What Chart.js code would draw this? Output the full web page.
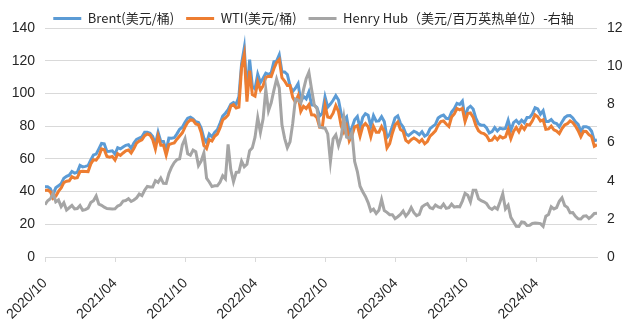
<!DOCTYPE html>
<html>
<head>
<meta charset="utf-8">
<script src="https://cdn.jsdelivr.net/npm/chart.js@4.4.1/dist/chart.umd.min.js"></script>
<style>
  html, body { margin: 0; padding: 0; background: #fff; }
  #wrap { width: 627px; height: 320px; }
</style>
</head>
<body>
<div id="wrap"><canvas id="priceChart"></canvas></div>
<script>
// Weekly closes (Fridays), first week 2020-10-09
const startDate = "2020-10-09";

const brent = [
  42.9, 42.9, 41.8, 37.9, 42.4, 43.5, 44.9, 48.2, 49.3, 50.0, 52.3, 51.3,
  51.8, 56.0, 55.1, 55.4, 55.9, 59.3, 62.4, 62.9, 66.1, 69.4, 69.2, 64.5, 64.6,
  64.9, 62.9, 66.8, 66.1, 67.3, 68.3, 68.7, 66.4, 69.6, 71.9, 72.7, 73.5, 76.2,
  76.2, 75.6, 73.6, 69.0, 76.3, 70.7, 70.6, 65.2, 72.7, 72.6, 72.9, 75.3, 78.1,
  79.3, 82.4, 84.9, 85.5, 84.4, 82.7, 82.2, 78.9, 72.7, 69.9, 75.2, 73.5, 76.1, 77.8,
  81.8, 86.1, 87.9, 90.0, 93.3, 94.4, 93.5, 97.9, 118.1, 127.9, 100.0, 120.6,
  104.4, 102.8, 111.7, 106.7, 109.3, 112.4, 111.6, 112.6, 119.4, 119.7, 123.6, 113.1, 113.1,
  111.6, 104.6, 101.2, 103.2, 106.0, 94.9, 98.2, 96.7, 100.9, 93.0, 92.8, 91.4, 86.2, 87.9,
  97.9, 91.6, 93.5, 95.8, 98.6, 96.0, 87.6, 83.6, 85.6, 76.1, 79.0, 83.9, 85.9,
  78.6, 85.3, 87.6, 86.7, 79.9, 86.4, 83.0, 83.2, 85.8, 82.8, 73.0, 75.0, 79.8,
  85.1, 86.3, 81.7, 79.5, 75.3, 74.2, 75.6, 76.9, 76.1, 74.8, 76.6, 73.9, 74.9,
  78.5, 79.9, 81.1, 85.0, 86.2, 86.8, 84.8, 84.5, 88.6, 90.7, 93.9, 93.3, 95.3,
  84.6, 90.9, 92.2, 90.5, 84.9, 81.4, 80.6, 80.6, 78.9, 75.8, 76.6, 79.1, 77.0,
  78.8, 78.3, 78.6, 83.6, 77.3, 82.2, 83.5, 81.6, 83.6, 82.1, 85.3, 85.4, 87.5,
  91.2, 90.5, 87.3, 89.5, 82.8, 82.8, 84.0, 82.1, 81.6, 79.6, 82.6, 85.2, 86.4,
  86.5, 85.0, 82.6, 81.1, 76.8, 79.7, 79.7, 79.0, 76.9, 71.1, 71.6
];

const wti = [
  40.6, 40.9, 39.9, 35.8, 37.1, 40.1, 42.2, 45.5, 46.3, 46.6, 49.1, 48.2,
  48.5, 52.2, 52.4, 52.3, 52.2, 56.9, 59.5, 59.2, 61.5, 66.1, 65.6, 61.4, 61.0,
  61.5, 59.3, 63.1, 62.1, 63.6, 64.9, 65.4, 63.6, 66.3, 69.6, 70.9, 71.6, 74.1,
  75.2, 74.6, 71.8, 66.0, 74.0, 68.3, 68.4, 62.3, 68.7, 69.3, 69.7, 72.0, 74.0,
  75.9, 79.4, 82.3, 83.8, 83.6, 81.3, 80.8, 76.1, 68.2, 66.3, 71.7, 70.9, 73.8, 75.2,
  78.9, 83.8, 85.1, 86.8, 92.3, 93.1, 91.1, 91.6, 115.7, 123.7, 95.0, 113.9,
  99.3, 98.3, 107.0, 102.1, 104.7, 109.8, 110.5, 110.3, 115.1, 118.9, 120.7, 109.6, 107.6,
  104.8, 104.8, 97.6, 94.7, 98.6, 89.0, 92.1, 90.8, 93.1, 86.9, 86.8, 85.1, 79.4, 79.5,
  92.6, 85.6, 85.1, 87.9, 92.6, 89.0, 80.1, 76.3, 80.0, 71.0, 74.3, 79.6, 80.3,
  73.8, 79.9, 81.6, 79.7, 73.4, 79.7, 76.3, 76.3, 79.7, 76.7, 66.7, 69.3, 75.7,
  80.7, 82.5, 77.9, 76.8, 71.3, 70.0, 71.7, 72.7, 71.7, 70.2, 71.8, 69.2, 70.6,
  73.9, 75.4, 77.1, 80.6, 82.8, 83.2, 81.3, 79.8, 85.6, 87.5, 90.8, 90.0, 90.8,
  82.8, 87.7, 88.1, 85.5, 80.5, 77.2, 75.9, 75.5, 74.1, 71.2, 71.4, 73.6, 71.7,
  73.8, 72.7, 73.4, 78.0, 72.3, 76.8, 79.2, 76.5, 80.0, 78.0, 81.0, 80.6, 83.2,
  86.9, 85.7, 83.1, 83.9, 78.1, 78.3, 80.0, 77.7, 77.0, 75.5, 78.5, 80.7, 81.5,
  83.2, 82.2, 80.1, 77.2, 73.5, 76.8, 76.7, 74.8, 73.6, 67.7, 68.7
];

const henryHub = [
  2.74, 2.95, 3.05, 3.35, 2.89, 2.99, 2.64, 2.84, 2.46, 2.58, 2.70, 2.52,
  2.54, 2.70, 2.45, 2.48, 2.56, 2.85, 2.95, 3.20, 2.77, 2.71, 2.61, 2.54, 2.53,
  2.52, 2.53, 2.67, 2.73, 2.93, 2.96, 3.06, 2.91, 2.99, 3.10, 3.30, 3.22, 3.50,
  3.70, 3.67, 3.67, 4.00, 3.91, 4.14, 3.86, 3.85, 4.37, 4.71, 4.95, 5.10, 5.14,
  5.87, 6.20, 5.41, 5.33, 5.60, 5.52, 4.79, 5.03, 5.45, 4.13, 3.93, 3.69, 3.73, 3.73,
  3.92, 4.26, 4.10, 5.90, 4.57, 3.94, 4.43, 4.45, 5.02, 4.73, 4.86, 5.57,
  5.72, 6.28, 7.30, 6.53, 7.24, 8.78, 7.66, 8.08, 8.73, 9.32, 8.85, 6.93, 6.22,
  5.73, 6.03, 7.00, 8.28, 8.23, 8.07, 8.77, 9.34, 9.68, 8.79, 7.97, 7.78, 6.83, 6.77,
  6.75, 6.45, 5.00, 6.20, 6.40, 5.84, 6.30, 7.30, 6.28, 6.23, 6.52, 5.00, 4.48,
  3.71, 3.42, 3.17, 2.85, 2.41, 2.51, 2.28, 2.45, 3.01, 2.43, 2.34, 2.22, 2.22,
  2.01, 2.11, 2.23, 2.41, 2.14, 2.31, 2.59, 2.32, 2.17, 2.23, 2.62, 2.73, 2.80,
  2.58, 2.53, 2.72, 2.63, 2.58, 2.77, 2.55, 2.59, 2.77, 2.61, 2.64, 2.63, 2.93,
  3.34, 3.24, 2.89, 3.50, 3.50, 3.05, 2.95, 2.89, 2.80, 2.58, 2.49, 2.61, 2.51,
  2.89, 3.31, 2.52, 2.71, 2.08, 1.85, 1.61, 1.60, 1.84, 1.81, 1.65, 1.66, 1.76,
  1.78, 1.77, 1.75, 1.61, 2.14, 2.23, 2.63, 2.52, 2.59, 2.92, 3.10, 2.70, 2.60,
  2.32, 2.33, 2.13, 2.00, 1.99, 2.14, 2.16, 2.02, 2.13, 2.28, 2.29
];

const tickLabels = ["2020/10", "2021/04", "2021/10", "2022/04", "2022/10", "2023/04", "2023/10", "2024/04"];

const seriesNames = ["Brent(美元/桶)", "WTI(美元/桶)", "Henry Hub（美元/百万英热单位）-右轴"];
const seriesColors = ["#5B9BD5", "#ED7D31", "#A5A5A5"];

// x is measured in days from the first week
const DAY = 86400000;
const t0 = Date.parse(startDate);
const dayOf = (s) => (Date.parse(s) - t0) / DAY;
const tickDays = tickLabels.map(l => dayOf(l.replace("/", "-") + "-09"));
const toPoints = (arr) => arr.map((v, i) => ({ x: i * 7, y: v }));
const lastDay = (brent.length - 1) * 7;

const tickFont = { family: "'Liberation Sans', Arial, sans-serif", size: 14 };
const textColor = "#262626";
const gridColor = "#D9D9D9";

function lineSet(i, data, axis, order) {
  return {
    label: seriesNames[i],
    data: toPoints(data),
    yAxisID: axis,
    borderColor: seriesColors[i],
    backgroundColor: seriesColors[i],
    borderWidth: 3,
    pointRadius: 0,
    tension: 0,
    order: order
  };
}

const ctx = document.getElementById("priceChart").getContext("2d");
new Chart(ctx, {
  type: "line",
  data: {
    datasets: [
      lineSet(0, brent, "y", 3),
      lineSet(1, wti, "y", 2),
      lineSet(2, henryHub, "y1", 1)
    ]
  },
  options: {
    responsive: true,
    maintainAspectRatio: false,
    animation: false,
    layout: { padding: 0 },
    plugins: {
      tooltip: { enabled: false },
      legend: {
        position: "top",
        maxHeight: 28,
        labels: {
          boxWidth: 28,
          boxHeight: 3,
          padding: 12,
          color: textColor,
          font: { family: "'Noto Sans CJK SC', sans-serif", size: 13 },
          sort: (a, b) => a.datasetIndex - b.datasetIndex,
          generateLabels: (chart) =>
            Chart.defaults.plugins.legend.labels.generateLabels(chart).map(l =>
              Object.assign(l, { lineWidth: 0, fillStyle: l.strokeStyle }))
        }
      }
    },
    scales: {
      x: {
        type: "linear",
        min: 0,
        max: lastDay,
        afterBuildTicks: (axis) => { axis.ticks = tickDays.map(v => ({ value: v })); },
        afterFit: (axis) => { axis.height = 63; axis.paddingLeft = 0; axis.paddingRight = 0; },
        ticks: {
          autoSkip: false,
          minRotation: 45,
          maxRotation: 45,
          padding: 13,
          color: textColor,
          font: tickFont,
          callback: (v) => tickLabels[tickDays.indexOf(v)]
        },
        grid: {
          drawOnChartArea: false,
          drawTicks: true,
          tickLength: 5,
          color: gridColor
        },
        border: { display: true, color: gridColor }
      },
      y: {
        position: "left",
        min: 0,
        max: 140,
        afterFit: (axis) => { axis.width = 45; },
        ticks: { stepSize: 20, padding: 10, color: textColor, font: tickFont },
        grid: { color: gridColor, drawTicks: false },
        border: { display: false }
      },
      y1: {
        position: "right",
        min: 0,
        max: 12,
        afterFit: (axis) => { axis.width = 30; },
        ticks: { stepSize: 1, padding: 10, color: textColor, font: tickFont },
        grid: { display: false, drawTicks: false },
        border: { display: false }
      }
    }
  }
});
</script>
</body>
</html>
